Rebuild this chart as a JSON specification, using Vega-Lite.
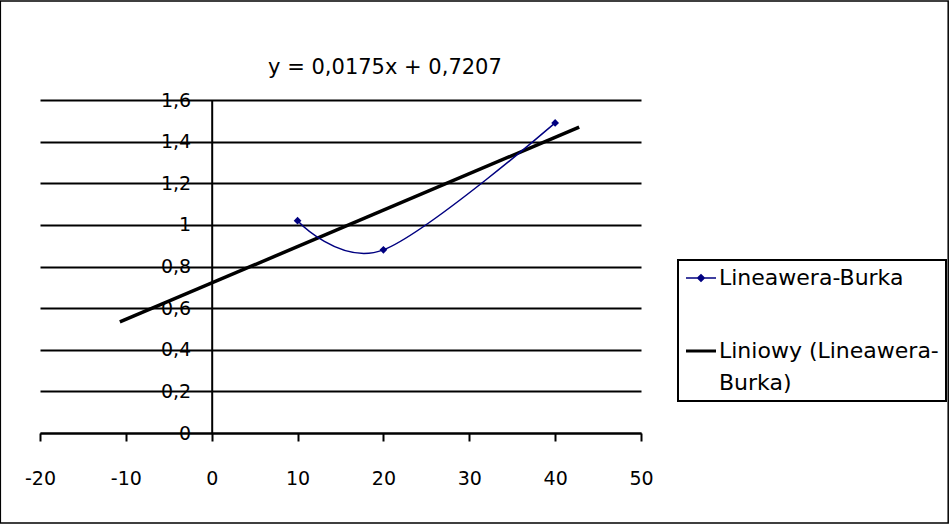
{
  "$schema": "https://vega.github.io/schema/vega-lite/v6.json",
  "width": 601,
  "height": 333,
  "autosize": {"type": "none"},
  "padding": {"left": 40, "top": 100, "right": 309, "bottom": 92},
  "background": "white",
  "config": {
    "view": {"stroke": null},
    "font": "DejaVu Sans"
  },
  "datasets": {
    "pts": [
      {"x": 10, "y": 1.02, "s": "Lineawera-Burka"},
      {"x": 20, "y": 0.88, "s": "Lineawera-Burka"},
      {"x": 40, "y": 1.49, "s": "Lineawera-Burka"}
    ],
    "trend": [
      {"x": -10.7, "y": 0.5335, "s": "Liniowy (Lineawera-Burka)"},
      {"x": 42.8, "y": 1.4697, "s": "Liniowy (Lineawera-Burka)"}
    ],
    "eq": [
      {"label": "y = 0,0175x + 0,7207"}
    ]
  },
  "layer": [
    {
      "data": {"values": [{}]},
      "mark": {"type": "rect", "fill": null, "stroke": "black", "strokeWidth": 1.5},
      "encoding": {
        "x": {"datum": -24.62, "type": "quantitative"},
        "x2": {"datum": 85.78},
        "y": {"datum": 2.076, "type": "quantitative"},
        "y2": {"datum": -0.433}
      }
    },
    {
      "data": {"name": "eq"},
      "mark": {"type": "text", "fontSize": 21, "color": "black", "align": "center", "baseline": "alphabetic"},
      "encoding": {
        "x": {"datum": 20.18, "type": "quantitative"},
        "y": {"datum": 1.727, "type": "quantitative"},
        "text": {"field": "label"}
      }
    },
    {
      "data": {"name": "trend"},
      "mark": {"type": "line", "strokeWidth": 3.5},
      "encoding": {
        "x": {
          "field": "x", "type": "quantitative",
          "scale": {"domain": [-20, 50], "nice": false, "zero": false},
          "axis": {
            "values": [-20, -10, 0, 10, 20, 30, 40, 50],
            "labelExpr": "datum.value < 0 ? '-' + abs(datum.value) : '' + datum.value",
            "grid": false,
            "domainColor": "black", "domainWidth": 2,
            "tickColor": "black", "tickWidth": 2, "tickSize": 8,
            "labelFontSize": 19, "labelColor": "black", "labelPadding": 28,
            "labelFlush": false,
            "title": null
          }
        },
        "y": {
          "field": "y", "type": "quantitative",
          "scale": {"domain": [0, 1.6], "nice": false, "zero": false},
          "axis": {
            "values": [0, 0.2, 0.4, 0.6, 0.8, 1, 1.2, 1.4, 1.6],
            "labelExpr": "replace(format(datum.value, '~g'), '.', ',')",
            "offset": -171.7,
            "grid": true, "gridColor": "black", "gridWidth": 2, "gridOpacity": 1,
            "domainColor": "black", "domainWidth": 2,
            "ticks": false,
            "labelFontSize": 19, "labelColor": "black", "labelPadding": 21,
            "labelFlush": false,
            "title": null
          }
        },
        "color": {
          "field": "s", "type": "nominal",
          "scale": {"domain": ["Lineawera-Burka", "Liniowy (Lineawera-Burka)"], "range": ["#000080", "#000000"]},
          "legend": {
            "orient": "none",
            "legendX": 638,
            "legendY": 160,
            "title": null,
            "strokeColor": "black",
            "padding": 7,
            "rowPadding": 51,
            "symbolSize": 900,
            "symbolOffset": 5,
            "labelFontSize": 22,
            "labelColor": "black",
            "labelOffset": 7,
            "labelLimit": 400,
            "labelExpr": "datum.value === 'Liniowy (Lineawera-Burka)' ? ['Liniowy (Lineawera-', 'Burka)'] : datum.label",
            "encode": {
              "legend": {"update": {"strokeWidth": {"value": 2}}},
              "labels": {"update": {"lineHeight": {"value": 32}}},
              "symbols": {
                "update": {
                  "shape": {"signal": "datum.value === 'Lineawera-Burka' ? 'M-1,0H1M0,-0.22L0.22,0L0,0.22L-0.22,0Z' : 'M-1,0H1'"},
                  "fill": {"signal": "datum.value === 'Lineawera-Burka' ? '#000080' : 'transparent'"},
                  "strokeWidth": {"signal": "datum.value === 'Lineawera-Burka' ? 1.5 : 3"},
                  "opacity": {"value": 1}
                }
              }
            }
          }
        }
      }
    },
    {
      "data": {"name": "pts"},
      "mark": {"type": "line", "interpolate": "cardinal", "strokeWidth": 1.5},
      "encoding": {
        "x": {"field": "x", "type": "quantitative"},
        "y": {"field": "y", "type": "quantitative"},
        "color": {"field": "s", "type": "nominal"}
      }
    },
    {
      "data": {"name": "pts"},
      "mark": {"type": "point", "shape": "diamond", "filled": true, "size": 60, "opacity": 1},
      "encoding": {
        "x": {"field": "x", "type": "quantitative"},
        "y": {"field": "y", "type": "quantitative"},
        "color": {"field": "s", "type": "nominal"}
      }
    }
  ]
}
